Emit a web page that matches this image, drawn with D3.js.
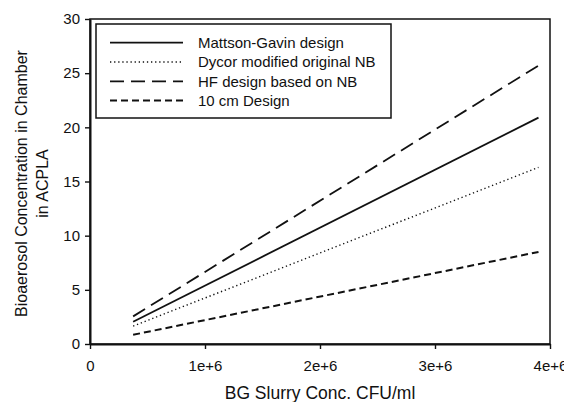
<!DOCTYPE html>
<html>
<head>
<meta charset="utf-8">
<script src="https://cdn.jsdelivr.net/npm/d3@7/dist/d3.min.js"></script>
<style>
  html, body { margin: 0; padding: 0; background: #fff; }
  svg { display: block; }
  text { font-family: "Liberation Sans", Arial, Helvetica, sans-serif; fill: #111; }
</style>
</head>
<body>
<svg id="chart" width="564" height="402"></svg>
<script>
// Slurry concentration (CFU/ml) at the ends of each fitted line
const slurryConc = [3.75e5, 3.9e6];

// Bioaerosol concentration (ACPLA) for each design at those two points
const mattsonGavin = [2.05, 20.9];
const dycorModified = [1.65, 16.3];
const hfDesign = [2.55, 25.7];
const tenCmDesign = [0.85, 8.5];

const seriesNames = [
  "Mattson-Gavin design",
  "Dycor modified original NB",
  "HF design based on NB",
  "10 cm Design"
];

const xTicks = [0, 1e6, 2e6, 3e6, 4e6];
const xTickLabels = ["0", "1e+6", "2e+6", "3e+6", "4e+6"];
const yTicks = [0, 5, 10, 15, 20, 25, 30];

const series = [
  { name: seriesNames[0], values: mattsonGavin, dash: null, width: 1.8 },
  { name: seriesNames[1], values: dycorModified, dash: "1.3,2.8", width: 1.4 },
  { name: seriesNames[2], values: hfDesign, dash: "14,7", width: 1.8 },
  { name: seriesNames[3], values: tenCmDesign, dash: "7,4", width: 2 }
];

const svg = d3.select("#chart");
const margin = { left: 90, right: 14, top: 19, bottom: 58 };
const W = 564, H = 402;
const plotW = W - margin.left - margin.right;
const plotH = H - margin.top - margin.bottom;

const x = d3.scaleLinear().domain([0, 4e6]).range([0, plotW]);
const y = d3.scaleLinear().domain([0, 30]).range([plotH, 0]);

const g = svg.append("g").attr("transform", `translate(${margin.left},${margin.top})`);

// Frame around the plot area
g.append("rect")
  .attr("x", 0).attr("y", 0)
  .attr("width", plotW).attr("height", plotH)
  .attr("fill", "none").attr("stroke", "#111").attr("stroke-width", 1.5);

// Axes
const xAxis = d3.axisBottom(x).tickValues(xTicks)
  .tickFormat((d, i) => xTickLabels[i]).tickSizeOuter(0).tickSizeInner(5).tickPadding(11);
const yAxis = d3.axisLeft(y).tickValues(yTicks)
  .tickSizeOuter(0).tickSizeInner(5).tickPadding(5);

const gx = g.append("g").attr("transform", `translate(0,${plotH})`).call(xAxis);
const gy = g.append("g").call(yAxis);
[gx, gy].forEach(a => {
  a.select(".domain").attr("stroke", "#111").attr("stroke-width", 2);
  a.selectAll(".tick line").attr("stroke", "#111").attr("stroke-width", 1.4);
  a.selectAll(".tick text").attr("font-size", 15).attr("fill", "#111")
    .attr("font-family", "'Liberation Sans', Arial, sans-serif");
});

// Series lines
const line = d3.line()
  .x((d, i) => x(slurryConc[i]))
  .y(d => y(d));

series.forEach(s => {
  g.append("path")
    .datum(s.values)
    .attr("d", line)
    .attr("fill", "none")
    .attr("stroke", "#111")
    .attr("stroke-width", s.width)
    .attr("stroke-dasharray", s.dash);
});

// Legend
const legend = g.append("g").attr("transform", "translate(6,5)");
legend.append("rect")
  .attr("x", 0).attr("y", 0).attr("width", 295).attr("height", 94)
  .attr("fill", "#fff").attr("stroke", "#111").attr("stroke-width", 1.5);
series.forEach((s, i) => {
  const ly = 18.7 + i * 19.3;
  legend.append("line")
    .attr("x1", 14).attr("x2", 87).attr("y1", ly).attr("y2", ly)
    .attr("stroke", "#111").attr("stroke-width", s.width)
    .attr("stroke-dasharray", s.dash);
  legend.append("text")
    .attr("x", 102).attr("y", ly).attr("dy", "0.35em")
    .attr("font-size", 15).text(s.name);
});

// Axis titles
svg.append("text")
  .attr("x", margin.left + plotW / 2).attr("y", 399)
  .attr("text-anchor", "middle").attr("font-size", 17.5)
  .text("BG Slurry Conc. CFU/ml");

const yTitle = svg.append("g")
  .attr("transform", `translate(27,${margin.top + plotH / 2 + 2}) rotate(-90)`);
yTitle.append("text").attr("x", 0).attr("y", 0)
  .attr("text-anchor", "middle").attr("font-size", 16)
  .text("Bioaerosol Concentration in Chamber");
yTitle.append("text").attr("x", 0).attr("y", 21)
  .attr("text-anchor", "middle").attr("font-size", 16)
  .text("in ACPLA");
</script>
</body>
</html>
